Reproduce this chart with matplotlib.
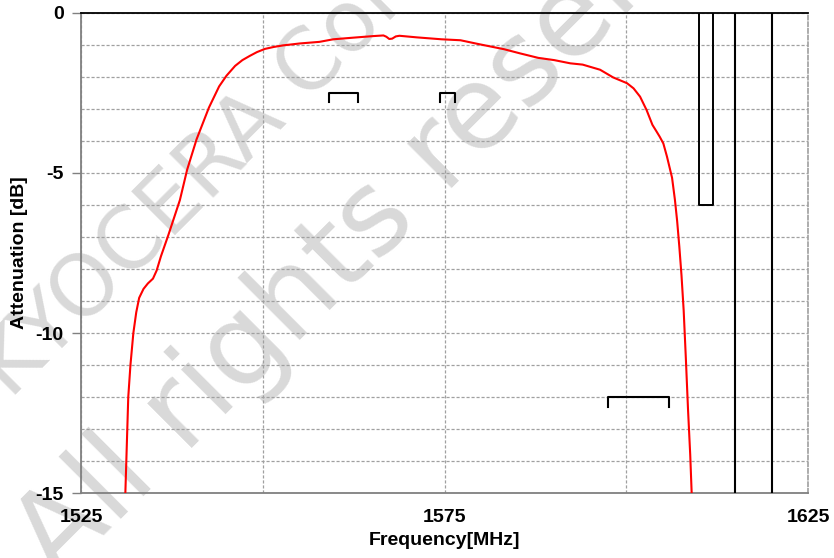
import numpy as np
import matplotlib
matplotlib.use('Agg')
from matplotlib import pyplot as plt
from matplotlib.ticker import MultipleLocator, FixedLocator

matplotlib.rcParams.update({'font.family': 'Liberation Sans', 'font.size': 14, 'font.weight': 'bold',
                            'axes.unicode_minus': False})

# filter response
freq = [1531.1, 1531.5, 1531.8, 1532.2, 1532.6, 1533.0, 1533.6, 1534.2, 1534.9, 1535.4,
        1536.0, 1537.0, 1538.6, 1539.6, 1540.9, 1542.6, 1544.0, 1545.0, 1546.2, 1547.2,
        1548.2, 1549.2, 1550.3, 1551.5, 1552.8, 1555.1, 1557.8, 1559.7, 1562.4, 1565.2,
        1566.6, 1567.0, 1567.4, 1567.8, 1568.3, 1568.8, 1571.2, 1574.6, 1577.2, 1579.7,
        1583.2, 1585.4, 1587.9, 1590.1, 1592.3, 1594.0, 1596.4, 1598.2, 1600.1, 1601.0,
        1601.9, 1602.8, 1603.6, 1604.2, 1604.6, 1605.1, 1605.6, 1606.3, 1606.7, 1607.0,
        1607.3, 1607.6, 1607.9, 1608.2, 1608.5, 1608.8, 1609.0]
att = [-15.0, -12.0, -11.0, -10.0, -9.35, -8.9, -8.62, -8.45, -8.3, -8.05,
       -7.6, -6.95, -5.85, -4.9, -3.95, -2.96, -2.3, -1.97, -1.66, -1.48,
       -1.35, -1.23, -1.13, -1.07, -1.02, -0.96, -0.91, -0.83, -0.78, -0.73,
       -0.71, -0.75, -0.82, -0.81, -0.74, -0.72, -0.77, -0.83, -0.86, -0.98,
       -1.14, -1.27, -1.41, -1.48, -1.58, -1.62, -1.78, -2.02, -2.2, -2.36,
       -2.62, -3.04, -3.5, -3.72, -3.87, -4.08, -4.49, -5.15, -5.85, -6.5,
       -7.3, -8.2, -9.3, -10.8, -12.4, -13.8, -15.0]

# band markers
band_lo = [1559.05, 1574.4, 1597.55]
band_hi = [1563.15, 1576.45, 1605.9]
band_level = [-2.5, -2.5, -12.0]
leg = 0.3

# attenuation spec box and limit lines
spec_lo, spec_hi, spec_depth = 1610, 1612, -6
limit_lines = [1615, 1620]

fig = plt.figure(figsize=(8.34, 5.58), dpi=100)
ax = fig.add_axes([81 / 834, 1 - 493.3 / 558, 727 / 834, 480.6 / 558])
ax.set_facecolor('none')

# watermark behind the chart
wm = dict(color='#d9d9d9', family='DejaVu Sans', fontweight='normal', rotation_mode='anchor',
          ha='left', va='baseline', rotation=45, zorder=-1)
fig.text(0.0121, 0.2837, 'KYOCERA Confidential', fontsize=61, **wm)
fig.text(0.0698, -0.0437, 'All rights reserved', fontsize=83, **wm)

ax.plot(freq, att, color='red', lw=1.5, zorder=4)

for lo, hi, lv in zip(band_lo, band_hi, band_level):
    ax.plot([lo, lo, hi, hi], [lv - leg, lv, lv, lv - leg], color='black', lw=1.5, zorder=3)

ax.plot([spec_lo, spec_lo, spec_hi, spec_hi], [0, spec_depth, spec_depth, 0], color='black', lw=1.4, zorder=3)
for x in limit_lines:
    ax.axvline(x, color='black', lw=1.5, zorder=3)

ax.set_xlim(1525, 1625)
ax.set_ylim(-15, 0)
ax.xaxis.set_major_locator(FixedLocator([1525, 1575, 1625]))
ax.xaxis.set_minor_locator(FixedLocator([1550, 1600]))
ax.yaxis.set_major_locator(MultipleLocator(5))
ax.yaxis.set_minor_locator(MultipleLocator(1))

dash = (0, (2.5, 1.5))
ax.grid(which='both', color='#a0a0a0', linestyle=dash, lw=0.9, zorder=1)
ax.set_axisbelow(True)

ax.tick_params(axis='x', which='both', length=0, pad=11, labelsize=14)
ax.tick_params(axis='y', which='major', length=6.5, color='#808080', width=1, pad=6, labelsize=14)
ax.tick_params(axis='y', which='minor', length=0)

for s in ['left', 'bottom']:
    ax.spines[s].set_color('#808080')
    ax.spines[s].set_linewidth(1.3)
ax.spines['right'].set_color('#a0a0a0')
ax.spines['right'].set_linestyle(dash)
ax.spines['right'].set_linewidth(1.2)
ax.spines['top'].set_color('black')
ax.spines['top'].set_linewidth(1.3)
ax.spines['top'].set_zorder(5)

ax.set_xlabel('Frequency[MHz]', fontsize=14, fontweight='bold')
ax.set_ylabel('Attenuation [dB]', fontsize=14, fontweight='bold')
ax.xaxis.label.set_va('center')
ax.yaxis.label.set_va('center')
ax.xaxis.set_label_coords(0.5, (493.3 - 540.5) / 480.6)
ax.yaxis.set_label_coords((19.5 - 81) / 727, 0.5)

fig.savefig('out.png', dpi=100)
